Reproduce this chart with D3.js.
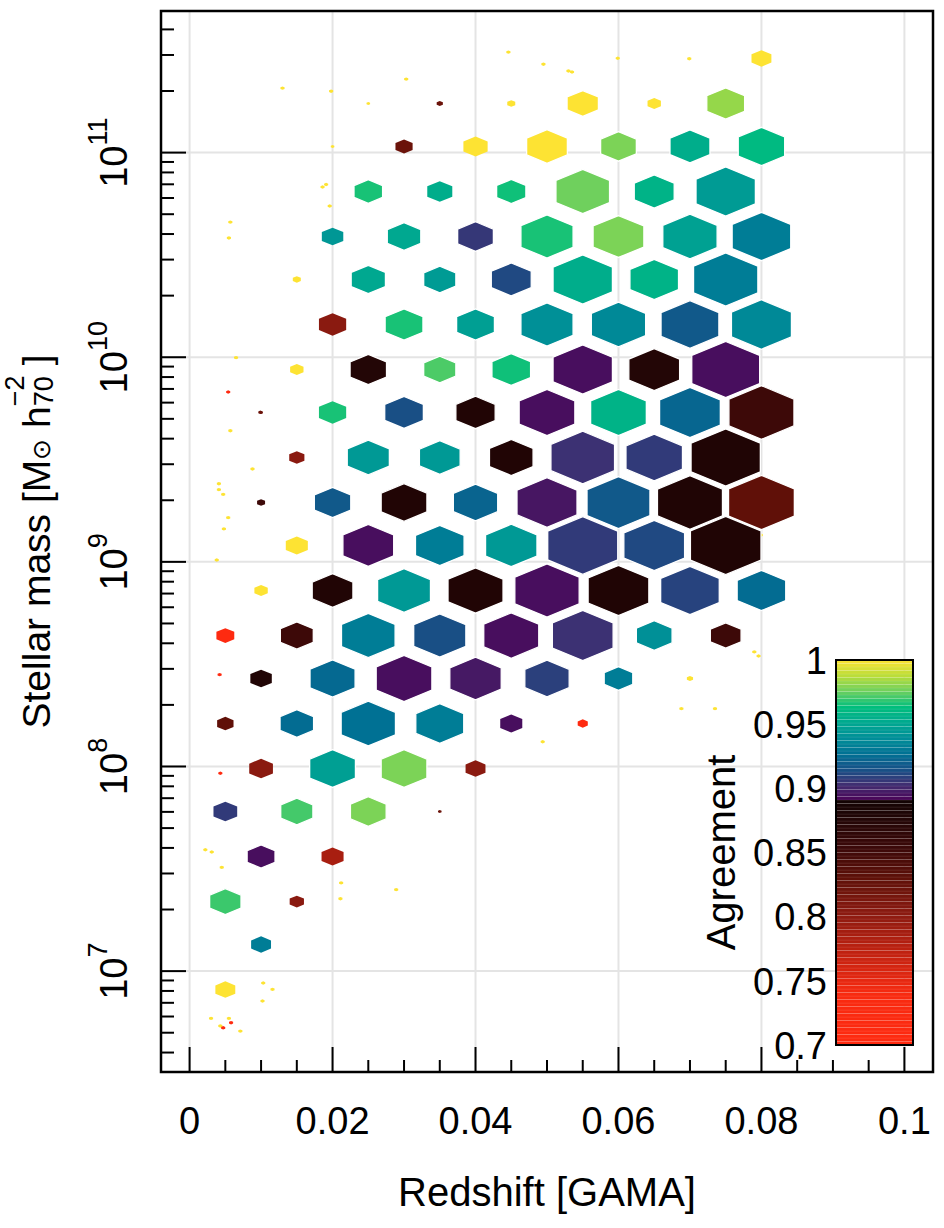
<!DOCTYPE html>
<html>
<head>
<meta charset="utf-8">
<script src="https://cdn.jsdelivr.net/npm/d3@7"></script>
<style>
  body { margin: 0; background: #fff; }
  svg { display: block; }
  text { font-family: "Liberation Sans", Arial, Helvetica, sans-serif; fill: #000; }
</style>
</head>
<body>
<svg id="chart"></svg>
<script>
var W = 944, H = 1228;

// centre of each hexbin row, log10 stellar mass
var rowLogMass = [11.46, 11.24, 11.03, 10.81, 10.59, 10.38, 10.16, 9.94, 9.73, 9.51, 9.29,
                  9.08, 8.86, 8.64, 8.43, 8.21, 7.99, 7.78, 7.56, 7.34, 7.13, 6.91];

// hexbins: [row, redshift, agreement, count]
var bins = [
  [0, 0.080, 1.000, 31],
  [1, 0.025, 1.000, 1], [1, 0.035, 0.822, 3], [1, 0.045, 1.000, 5], [1, 0.055, 1.000, 77],
  [1, 0.065, 1.000, 14], [1, 0.075, 0.982, 112],
  [2, 0.020, 1.000, 1], [2, 0.030, 0.822, 23], [2, 0.040, 1.000, 46], [2, 0.050, 1.000, 130],
  [2, 0.060, 0.978, 100], [2, 0.070, 0.954, 125], [2, 0.080, 0.961, 169],
  [3, 0.025, 0.966, 64], [3, 0.035, 0.954, 49], [3, 0.045, 0.965, 67], [3, 0.055, 0.976, 225],
  [3, 0.065, 0.957, 125], [3, 0.075, 0.945, 276],
  [4, 0.020, 0.943, 36], [4, 0.030, 0.951, 88], [4, 0.040, 0.906, 100], [4, 0.050, 0.966, 213],
  [4, 0.060, 0.978, 202], [4, 0.070, 0.948, 231], [4, 0.080, 0.932, 269],
  [5, 0.015, 1.000, 5], [5, 0.025, 0.951, 92], [5, 0.035, 0.945, 81], [5, 0.045, 0.912, 125],
  [5, 0.055, 0.954, 276], [5, 0.065, 0.957, 185], [5, 0.075, 0.932, 324],
  [6, 0.020, 0.803, 58], [6, 0.030, 0.966, 112], [6, 0.040, 0.947, 112], [6, 0.050, 0.940, 213],
  [6, 0.060, 0.937, 231], [6, 0.070, 0.918, 262], [6, 0.080, 0.937, 282],
  [7, 0.015, 1.000, 14], [7, 0.025, 0.876, 104], [7, 0.035, 0.972, 81], [7, 0.045, 0.965, 117],
  [7, 0.055, 0.894, 276], [7, 0.065, 0.876, 202], [7, 0.075, 0.894, 361],
  [8, 0.010, 0.822, 1], [8, 0.020, 0.966, 58], [8, 0.030, 0.914, 117], [8, 0.040, 0.878, 121],
  [8, 0.050, 0.894, 243], [8, 0.060, 0.957, 243], [8, 0.070, 0.923, 289], [8, 0.080, 0.853, 331],
  [9, 0.015, 0.803, 18], [9, 0.025, 0.944, 139], [9, 0.035, 0.944, 130], [9, 0.045, 0.878, 149],
  [9, 0.055, 0.904, 317], [9, 0.065, 0.907, 250], [9, 0.075, 0.879, 376],
  [10, 0.010, 0.853, 5], [10, 0.020, 0.918, 104], [10, 0.030, 0.878, 164], [10, 0.040, 0.922, 154],
  [10, 0.050, 0.896, 282], [10, 0.060, 0.918, 310], [10, 0.070, 0.879, 331], [10, 0.080, 0.829, 339],
  [11, 0.015, 1.000, 38], [11, 0.025, 0.894, 202], [11, 0.035, 0.932, 185], [11, 0.045, 0.944, 207],
  [11, 0.055, 0.907, 384], [11, 0.065, 0.912, 289], [11, 0.075, 0.879, 390],
  [12, 0.010, 1.000, 14], [12, 0.020, 0.878, 130], [12, 0.030, 0.944, 219], [12, 0.040, 0.878, 237],
  [12, 0.050, 0.894, 324], [12, 0.060, 0.879, 289], [12, 0.070, 0.910, 269], [12, 0.080, 0.925, 185],
  [13, 0.005, 0.705, 25], [13, 0.015, 0.853, 85], [13, 0.025, 0.932, 225], [13, 0.035, 0.914, 213],
  [13, 0.045, 0.894, 237], [13, 0.055, 0.904, 289], [13, 0.065, 0.940, 100], [13, 0.075, 0.853, 74],
  [14, 0.010, 0.878, 36], [14, 0.020, 0.924, 159], [14, 0.030, 0.894, 243], [14, 0.040, 0.897, 207],
  [14, 0.050, 0.909, 154], [14, 0.060, 0.932, 64], [14, 0.070, 1.000, 3],
  [15, 0.005, 0.829, 21], [15, 0.015, 0.925, 88], [15, 0.025, 0.927, 231], [15, 0.035, 0.932, 180],
  [15, 0.045, 0.894, 38], [15, 0.055, 0.705, 8],
  [16, 0.010, 0.803, 44], [16, 0.020, 0.947, 164], [16, 0.030, 0.978, 164], [16, 0.040, 0.803, 31],
  [17, 0.005, 0.907, 44], [17, 0.015, 0.971, 81], [17, 0.025, 0.978, 100], [17, 0.035, 0.822, 1],
  [18, 0.010, 0.894, 61], [18, 0.020, 0.786, 38],
  [19, 0.005, 0.970, 77], [19, 0.015, 0.803, 16],
  [20, 0.010, 0.932, 31],
  [21, 0.005, 1.000, 31]
];

// isolated galaxies: [redshift, log10 mass, agreement]
var singles = [
  [0.0130, 11.315, 1], [0.0198, 11.300, 1], [0.0303, 11.359, 1], [0.0446, 11.491, 1],
  [0.0495, 11.432, 1], [0.0530, 11.399, 1], [0.0535, 11.394, 1], [0.0599, 11.461, 1],
  [0.0699, 11.459, 1], [0.0186, 10.832, 1], [0.0191, 10.844, 1], [0.0196, 10.739, 1],
  [0.0057, 10.660, 1], [0.0055, 10.583, 1], [0.0065, 9.998, 1], [0.0054, 9.830, 0.7],
  [0.0099, 9.731, 0.822], [0.0057, 9.641, 1], [0.0088, 9.454, 1], [0.0041, 9.382, 1],
  [0.0041, 9.353, 1], [0.0047, 9.330, 1], [0.0054, 9.216, 1], [0.0048, 9.161, 1],
  [0.0038, 9.009, 1], [0.0799, 9.131, 1], [0.0790, 8.560, 1], [0.0796, 8.540, 1],
  [0.0042, 8.449, 0.7], [0.0688, 8.283, 1], [0.0735, 8.283, 1], [0.0494, 8.121, 1],
  [0.0043, 7.967, 0.7], [0.0022, 7.593, 1], [0.0031, 7.582, 1], [0.0045, 7.507, 1],
  [0.0212, 7.431, 1], [0.0211, 7.354, 1], [0.0289, 7.398, 1], [0.0103, 6.942, 1],
  [0.0116, 6.911, 1], [0.0102, 6.854, 1], [0.0030, 6.769, 1], [0.0055, 6.769, 1],
  [0.0043, 6.732, 1], [0.0047, 6.723, 0.7], [0.0058, 6.748, 0.7], [0.0071, 6.707, 1]
];

var xTicks = [0, 0.02, 0.04, 0.06, 0.08, 0.1];
var xTickLabels = ['0', '0.02', '0.04', '0.06', '0.08', '0.1'];
var xMinor = [0.005, 0.01, 0.015, 0.025, 0.03, 0.035, 0.045, 0.05, 0.055,
              0.065, 0.07, 0.075, 0.085, 0.09, 0.095];
var yDecades = [7, 8, 9, 10, 11];
var yMinorMult = [2, 3, 4, 5, 6, 7, 8, 9];
var cbTicks = [0.7, 0.75, 0.8, 0.85, 0.9, 0.95, 1];
var cbTickLabels = ['0.7', '0.75', '0.8', '0.85', '0.9', '0.95', '1'];

// colour map: red to black below the split, hcl viridis above
var lowStops = [0.7, 0.74, 0.777, 0.803, 0.829, 0.855, 0.89];
var lowColours = ['#ff2a10', '#f82a10', '#b82010', '#8a1a10', '#601008', '#3a0808', '#140404'];
var highStops = [0.89, 0.9022, 0.9144, 0.9267, 0.9389, 0.9511, 0.9633, 0.9756, 0.9878, 1];
var highColours = ['#4b0055', '#422c70', '#185086', '#007094', '#008e98',
                   '#00a890', '#00be7d', '#6cd05e', '#bbdd38', '#fde333'];

var lowScale = d3.scaleLinear().domain(lowStops).range(lowColours).clamp(true);
var highScale = d3.scaleLinear().domain(highStops).range(highColours).clamp(true);
function agreeColour(v) { return v < 0.89 ? lowScale(v) : highScale(v); }

var pLeft = 161, pRight = 933, pTop = 11, pBottom = 1072;

var svg = d3.select('#chart').attr('width', W).attr('height', H);

var x = d3.scaleLinear().domain([-0.004, 0.104]).range([pLeft, pRight]);
var y = d3.scaleLog().domain([Math.pow(10, 6.507), Math.pow(10, 11.692)]).range([pBottom, pTop]);
var size = d3.scaleSqrt().domain([0, 400]).range([0, 1]);

// grid
var grid = svg.append('g').attr('stroke', '#e4e4e4').attr('stroke-width', 2);
grid.selectAll('.gx').data(xTicks).enter().append('line')
    .attr('x1', d => x(d)).attr('x2', d => x(d)).attr('y1', pTop).attr('y2', pBottom);
grid.selectAll('.gy').data(yDecades).enter().append('line')
    .attr('x1', pLeft).attr('x2', pRight)
    .attr('y1', d => y(Math.pow(10, d))).attr('y2', d => y(Math.pow(10, d)));

// hexagon in data space (pointy top), tile is 0.01 wide and 0.2884 dex tall
function hexPath(z, lm, s) {
    var dz = 0.005 * s, dl = 0.1442 * s;
    var pts = [[z, lm + dl], [z + dz, lm + dl / 2], [z + dz, lm - dl / 2],
               [z, lm - dl], [z - dz, lm - dl / 2], [z - dz, lm + dl / 2]];
    return 'M' + pts.map(p => x(p[0]).toFixed(2) + ',' + y(Math.pow(10, p[1])).toFixed(2)).join('L') + 'Z';
}

var plot = svg.append('g');

plot.selectAll('.single').data(singles).enter().append('path')
    .attr('d', d => hexPath(d[0], d[1], size(1) * 1.15))
    .attr('fill', d => agreeColour(d[2]));

plot.selectAll('.hex').data(bins).enter().append('path')
    .attr('d', d => hexPath(d[1], rowLogMass[d[0]], size(d[3])))
    .attr('fill', d => agreeColour(d[2]))
    .attr('stroke', d => d[3] > 60 ? '#fff' : 'none')
    .attr('stroke-width', 1.3);

// ticks (inward)
var ticks = svg.append('g').attr('stroke', '#000').attr('stroke-width', 2);
ticks.selectAll('.xt').data(xTicks).enter().append('line')
    .attr('x1', d => x(d)).attr('x2', d => x(d)).attr('y1', pBottom).attr('y2', pBottom - 25);
ticks.selectAll('.xm').data(xMinor).enter().append('line')
    .attr('x1', d => x(d)).attr('x2', d => x(d)).attr('y1', pBottom).attr('y2', pBottom - 12);
ticks.selectAll('.yt').data(yDecades).enter().append('line')
    .attr('x1', pLeft).attr('x2', pLeft + 25)
    .attr('y1', d => y(Math.pow(10, d))).attr('y2', d => y(Math.pow(10, d)));

var yMinor = [];
[6, 7, 8, 9, 10, 11].forEach(function(e) {
    yMinorMult.forEach(function(m) {
        var v = m * Math.pow(10, e);
        if (v > y.domain()[0] && v < y.domain()[1]) yMinor.push(v);
    });
});
ticks.selectAll('.ym').data(yMinor).enter().append('line')
    .attr('x1', pLeft).attr('x2', pLeft + 13)
    .attr('y1', d => y(d)).attr('y2', d => y(d));

// box
svg.append('rect')
    .attr('x', pLeft).attr('y', pTop).attr('width', pRight - pLeft).attr('height', pBottom - pTop)
    .attr('fill', 'none').attr('stroke', '#000').attr('stroke-width', 2.5);

// x tick labels
svg.append('g').selectAll('text').data(xTicks).enter().append('text')
    .attr('x', d => x(d)).attr('y', 1134)
    .attr('text-anchor', 'middle').style('font-size', '38px')
    .text((d, i) => xTickLabels[i]);

// y tick labels, rotated, 10^n
yDecades.forEach(function(d) {
    var t = svg.append('text')
        .attr('transform', `translate(127, ${y(Math.pow(10, d))}) rotate(-90)`)
        .attr('text-anchor', 'middle');
    t.append('tspan').style('font-size', '38px').text('10');
    t.append('tspan').style('font-size', '27px').attr('dy', -20).text(d);
});

// axis titles
svg.append('text')
    .attr('x', (pLeft + pRight) / 2).attr('y', 1206)
    .attr('text-anchor', 'middle').style('font-size', '40px')
    .text('Redshift [GAMA]');

var yt = svg.append('text')
    .attr('transform', `translate(50, ${(pTop + pBottom) / 2}) rotate(-90)`)
    .attr('text-anchor', 'middle').style('font-size', '39px');
yt.append('tspan').text('Stellar mass [M');
yt.append('tspan').style('font-size', '25px').text('\u2299');
yt.append('tspan').text(' h');
var sup = yt.append('tspan').style('font-size', '27px').attr('dy', -26).text('\u22122');
var supW = sup.node().getComputedTextLength();
yt.append('tspan').style('font-size', '27px').attr('dx', -supW).attr('dy', 29).text('70');
yt.append('tspan').attr('dy', -3).text(' ]');

// colour bar
var cbLeft = 836, cbRight = 913, cbTop = 660, cbBottom = 1045;
var cbY = d3.scaleLinear().domain([0.7, 1]).range([cbBottom, cbTop]);
var strips = d3.range(0, 110);
var stripH = (cbBottom - cbTop) / strips.length;
svg.append('g').selectAll('rect').data(strips).enter().append('rect')
    .attr('x', cbLeft).attr('width', cbRight - cbLeft)
    .attr('y', i => cbBottom - (i + 1) * stripH)
    .attr('height', stripH)
    .attr('fill', i => agreeColour(0.7 + (i + 0.5) * 0.3 / strips.length))
    .attr('stroke', 'rgba(255,255,255,0.12)').attr('stroke-width', 0.6);
svg.append('rect')
    .attr('x', cbLeft).attr('y', cbTop).attr('width', cbRight - cbLeft).attr('height', cbBottom - cbTop)
    .attr('fill', 'none').attr('stroke', '#000').attr('stroke-width', 2);

svg.append('g').selectAll('text').data(cbTicks).enter().append('text')
    .attr('x', 827).attr('y', d => cbY(d)).attr('dy', '0.36em')
    .attr('text-anchor', 'end').style('font-size', '38px')
    .text((d, i) => cbTickLabels[i]);

svg.append('text')
    .attr('transform', `translate(735, ${(cbTop + cbBottom) / 2}) rotate(-90)`)
    .attr('text-anchor', 'middle').style('font-size', '40px')
    .text('Agreement');
</script>
</body>
</html>
